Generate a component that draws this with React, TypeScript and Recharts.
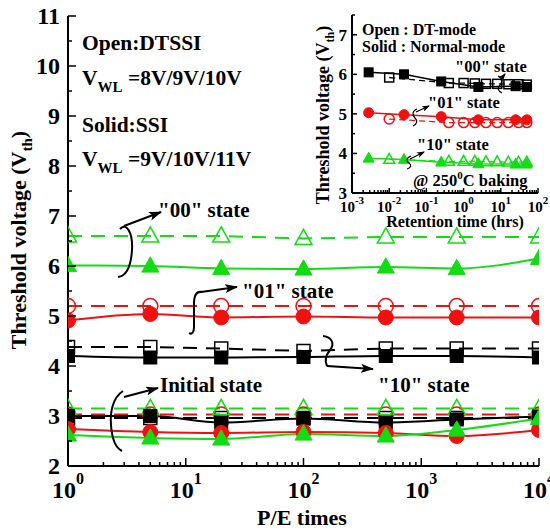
import React from "react";
import { LineChart, Line, XAxis, YAxis, ReferenceArea } from "recharts";

const FONT = "'Liberation Serif', 'Times New Roman', Times, serif";
const GREEN = "#14dc14";
const RED = "#f01010";
const BLACK = "#000000";

// main plot: Vth vs P/E cycles
const peCycles = [1, 5, 20, 100, 500, 2000, 10000];
const s00Open = [6.6, 6.6, 6.6, 6.55, 6.58, 6.58, 6.58];
const s00Solid = [6.01, 6.0, 5.95, 5.94, 5.98, 5.95, 6.15];
const s01Open = [5.2, 5.2, 5.2, 5.2, 5.2, 5.2, 5.2];
const s01Solid = [4.91, 5.04, 4.97, 4.99, 4.97, 4.97, 4.97];
const s10Open = [4.38, 4.38, 4.35, 4.3, 4.35, 4.35, 4.35];
const s10Solid = [4.2, 4.17, 4.17, 4.18, 4.2, 4.2, 4.17];
const initGreenOpen = [3.15, 3.15, 3.15, 3.15, 3.15, 3.15, 3.15];
const initRedOpen = [3.03, 3.03, 3.03, 3.03, 3.03, 3.03, 3.03];
const initBlackOpen = [2.96, 2.96, 2.96, 2.96, 2.96, 2.96, 2.96];
const initBlackSolid = [3.0, 3.0, 2.87, 2.95, 2.87, 2.93, 2.99];
const initRedSolid = [2.74, 2.68, 2.66, 2.68, 2.66, 2.6, 2.72];
const initGreenSolid = [2.62, 2.56, 2.54, 2.64, 2.6, 2.72, 2.95];

const peMajorTicks = [1, 10, 100, 1000, 10000];
const logMinorSteps = [2, 3, 4, 5, 6, 7, 8, 9];
const peTicks = peMajorTicks.flatMap((d, i) =>
  i < peMajorTicks.length - 1 ? [d, ...logMinorSteps.map((m) => m * d)] : [d]
);
const vthTicks = [2, 2.5, 3, 3.5, 4, 4.5, 5, 5.5, 6, 6.5, 7, 7.5, 8, 8.5, 9, 9.5, 10, 10.5, 11];

// inset: retention at 250C
const hrsSolid = [0.0028, 0.025, 0.25, 2.5, 25, 50];
const hrsOpen = [0.01, 0.4, 1, 2, 4, 8, 16, 30, 50];
const ret00Solid = [6.05, 6.0, 5.82, 5.68, 5.7, 5.68];
const ret00Open = [5.92, 5.78, 5.78, 5.77, 5.76, 5.76, 5.75, 5.75, 5.74];
const ret01Solid = [5.03, 4.98, 4.93, 4.85, 4.85, 4.85];
const ret01Open = [4.87, 4.78, 4.78, 4.78, 4.78, 4.78, 4.78, 4.78, 4.78];
const ret10Solid = [3.88, 3.85, 3.78, 3.74, 3.73, 3.73];
const ret10Open = [3.85, 3.8, 3.8, 3.8, 3.79, 3.79, 3.78, 3.78, 3.78];

const hrsMajorTicks = [0.001, 0.01, 0.1, 1, 10, 100];
const hrsTicks = hrsMajorTicks.flatMap((d, i) =>
  i < hrsMajorTicks.length - 1 ? [d, ...logMinorSteps.map((m) => m * d)] : [d]
);
const insetVthTicks = [3, 3.5, 4, 4.5, 5, 5.5, 6, 6.5, 7, 7.5];

const peRows = peCycles.map((x, i) => ({
  x,
  s00Open: s00Open[i],
  s00Solid: s00Solid[i],
  s01Open: s01Open[i],
  s01Solid: s01Solid[i],
  s10Open: s10Open[i],
  s10Solid: s10Solid[i],
  initGreenOpen: initGreenOpen[i],
  initRedOpen: initRedOpen[i],
  initBlackOpen: initBlackOpen[i],
  initBlackSolid: initBlackSolid[i],
  initRedSolid: initRedSolid[i],
  initGreenSolid: initGreenSolid[i],
}));
const solidRows = hrsSolid.map((x, i) => ({ x, v00: ret00Solid[i], v01: ret01Solid[i], v10: ret10Solid[i] }));
const openRows = hrsOpen.map((x, i) => ({ x, v00: ret00Open[i], v01: ret01Open[i], v10: ret10Open[i] }));

type Shape = "triangle" | "circle" | "square";

function marker(shape: Shape, color: string, filled: boolean, size: number) {
  return (p: any) => {
    const { cx, cy, index } = p;
    if (cx == null || cy == null) return <g key={index} />;
    const fill = filled ? color : "none";
    const sw = filled ? 1 : 1.5;
    if (shape === "circle")
      return <circle key={index} cx={cx} cy={cy} r={size / 2} fill={fill} stroke={color} strokeWidth={sw} />;
    if (shape === "square")
      return (
        <rect key={index} x={cx - size / 2} y={cy - size / 2} width={size} height={size} fill={fill} stroke={color} strokeWidth={sw} />
      );
    const h = size * 0.9;
    return (
      <polygon
        key={index}
        points={`${cx},${cy - h * 0.6} ${cx - size / 2},${cy + h * 0.4} ${cx + size / 2},${cy + h * 0.4}`}
        fill={fill}
        stroke={color}
        strokeWidth={sw}
        strokeLinejoin="miter"
      />
    );
  };
}

const isMajor = (v: number) => Math.abs(Math.log10(v) - Math.round(Math.log10(v))) < 1e-6;

function logTick(side: "bottom" | "top", big: number, small: number, fs: number, sup: number, base: number, supDy: number) {
  return (p: any) => {
    const { x, y, payload } = p;
    const v = payload.value;
    const major = isMajor(v);
    const len = major ? big : small;
    const dir = side === "bottom" ? -1 : 1;
    return (
      <g>
        <line x1={x} x2={x} y1={y} y2={y + dir * len} stroke="#000" strokeWidth={1.5} />
        {side === "bottom" && major && (
          <text x={x} y={y + base} textAnchor="middle" fontFamily={FONT} fontWeight="bold" fontSize={fs} fill="#000">
            10
            <tspan dy={supDy} fontSize={sup}>
              {Math.round(Math.log10(v))}
            </tspan>
          </text>
        )}
      </g>
    );
  };
}

function linTick(side: "left" | "right", big: number, small: number, fs: number, gap: number, base: number) {
  return (p: any) => {
    const { x, y, payload } = p;
    const v = payload.value;
    const major = Number.isInteger(v);
    const len = major ? big : small;
    const dir = side === "left" ? 1 : -1;
    return (
      <g>
        <line x1={x} x2={x + dir * len} y1={y} y2={y} stroke="#000" strokeWidth={1.5} />
        {side === "left" && major && (
          <text x={x - gap} y={y + base} textAnchor="end" fontFamily={FONT} fontWeight="bold" fontSize={fs} fill="#000">
            {v}
          </text>
        )}
      </g>
    );
  };
}

const axisLine = { stroke: "#000", strokeWidth: 2 };

function MainChart() {
  const lines = [
    { key: "s00Open", color: GREEN, shape: "triangle", filled: false },
    { key: "s01Open", color: RED, shape: "circle", filled: false },
    { key: "s10Open", color: BLACK, shape: "square", filled: false },
    { key: "initBlackOpen", color: BLACK, shape: "square", filled: false },
    { key: "initRedOpen", color: RED, shape: "circle", filled: false },
    { key: "initGreenOpen", color: GREEN, shape: "triangle", filled: false },
    { key: "s00Solid", color: GREEN, shape: "triangle", filled: true },
    { key: "s01Solid", color: RED, shape: "circle", filled: true },
    { key: "s10Solid", color: BLACK, shape: "square", filled: true },
    { key: "initBlackSolid", color: BLACK, shape: "square", filled: true },
    { key: "initRedSolid", color: RED, shape: "circle", filled: true },
    { key: "initGreenSolid", color: GREEN, shape: "triangle", filled: true },
  ] as const;
  const sizes = { triangle: 17, circle: 15, square: 13 };
  return (
    <LineChart width={550} height={531} data={peRows} margin={{ top: 16, right: 11, bottom: 0, left: 0 }}>
      <XAxis
        xAxisId="b"
        dataKey="x"
        type="number"
        scale="log"
        domain={[1, 10000]}
        allowDataOverflow
        ticks={peTicks}
        interval={0}
        height={65}
        tickSize={0}
        tickMargin={0}
        tickLine={false}
        axisLine={axisLine}
        tick={logTick("bottom", 8, 4, 24, 16, 32, -14)}
      />
      <XAxis
        xAxisId="t"
        orientation="top"
        dataKey="x"
        type="number"
        scale="log"
        domain={[1, 10000]}
        allowDataOverflow
        ticks={peTicks}
        interval={0}
        height={0}
        tickSize={0}
        tickMargin={0}
        tickLine={false}
        axisLine={axisLine}
        tick={logTick("top", 8, 4, 24, 16, 32, -14)}
      />
      <YAxis
        yAxisId="l"
        type="number"
        domain={[2, 11]}
        allowDataOverflow
        ticks={vthTicks}
        interval={0}
        width={68}
        tickSize={0}
        tickMargin={0}
        tickLine={false}
        axisLine={axisLine}
        tick={linTick("left", 8, 4, 24, 8, 8)}
      />
      <YAxis
        yAxisId="r"
        orientation="right"
        type="number"
        domain={[2, 11]}
        ticks={vthTicks}
        interval={0}
        width={0}
        tickSize={0}
        tickMargin={0}
        tickLine={false}
        axisLine={axisLine}
        tick={linTick("right", 8, 4, 24, 8, 8)}
      />
      {lines.map((l) => (
        <Line
          key={l.key}
          xAxisId="b"
          yAxisId="l"
          dataKey={l.key}
          type={l.filled ? "monotone" : "linear"}
          stroke={l.color}
          strokeWidth={2}
          strokeDasharray={l.filled ? undefined : "14 9"}
          dot={marker(l.shape, l.color, l.filled, sizes[l.shape])}
          activeDot={false}
          isAnimationActive={false}
        />
      ))}
    </LineChart>
  );
}

function InsetChart() {
  const series = [
    { key: "v00", color: BLACK, shape: "square" },
    { key: "v01", color: RED, shape: "circle" },
    { key: "v10", color: GREEN, shape: "triangle" },
  ] as const;
  const sizes = { triangle: 11, circle: 10, square: 9 };
  return (
    <LineChart width={250} height={235} margin={{ top: 15, right: 12, bottom: 0, left: 0 }}>
      <ReferenceArea xAxisId="b" yAxisId="l" x1={0.001} x2={100} y1={3} y2={7.5} fill="#fff" fillOpacity={1} stroke="none" />
      <XAxis
        xAxisId="b"
        dataKey="x"
        type="number"
        scale="log"
        domain={[0.001, 100]}
        allowDataOverflow
        ticks={hrsTicks}
        interval={0}
        height={42}
        tickSize={0}
        tickMargin={0}
        tickLine={false}
        axisLine={axisLine}
        tick={logTick("bottom", 5, 3, 15, 11, 19, -8)}
      />
      <XAxis
        xAxisId="t"
        orientation="top"
        dataKey="x"
        type="number"
        scale="log"
        domain={[0.001, 100]}
        ticks={hrsTicks}
        interval={0}
        height={0}
        tickSize={0}
        tickMargin={0}
        tickLine={false}
        axisLine={axisLine}
        tick={logTick("top", 5, 3, 15, 11, 19, -8)}
      />
      <YAxis
        yAxisId="l"
        type="number"
        domain={[3, 7.5]}
        allowDataOverflow
        ticks={insetVthTicks}
        interval={0}
        width={52}
        tickSize={0}
        tickMargin={0}
        tickLine={false}
        axisLine={axisLine}
        tick={linTick("left", 5, 3, 17, 5, 6)}
      />
      <YAxis
        yAxisId="r"
        orientation="right"
        type="number"
        domain={[3, 7.5]}
        ticks={insetVthTicks}
        interval={0}
        width={0}
        tickSize={0}
        tickMargin={0}
        tickLine={false}
        axisLine={axisLine}
        tick={linTick("right", 5, 3, 17, 5, 6)}
      />
      {series.map((s) => (
        <Line
          key={s.key + "o"}
          xAxisId="b"
          yAxisId="l"
          data={openRows}
          dataKey={s.key}
          type="linear"
          stroke={s.color}
          strokeWidth={1.3}
          strokeDasharray="6 4"
          dot={marker(s.shape, s.color, false, sizes[s.shape])}
          activeDot={false}
          isAnimationActive={false}
        />
      ))}
      {series.map((s) => (
        <Line
          key={s.key + "s"}
          xAxisId="b"
          yAxisId="l"
          data={solidRows}
          dataKey={s.key}
          type="linear"
          stroke={s.color}
          strokeWidth={1.5}
          dot={marker(s.shape, s.color, true, sizes[s.shape])}
          activeDot={false}
          isAnimationActive={false}
        />
      ))}
    </LineChart>
  );
}

function Notes() {
  const t = { fontFamily: FONT, fontWeight: "bold" as const, fill: "#000" };
  return (
    <svg width={550} height={531} style={{ position: "absolute", left: 0, top: 0, pointerEvents: "none" }}>
      <defs>
        <marker id="ah" markerUnits="userSpaceOnUse" markerWidth={13} markerHeight={9} refX={12} refY={4.5} orient="auto">
          <path d="M0,0 L13,4.5 L0,9 L3,4.5 z" fill="#000" />
        </marker>
        <marker id="ahs" markerUnits="userSpaceOnUse" markerWidth={8} markerHeight={6} refX={7} refY={3} orient="auto">
          <path d="M0,0 L8,3 L0,6 L2,3 z" fill="#000" />
        </marker>
      </defs>
      {/* main axis titles */}
      <text x={302} y={525} textAnchor="middle" fontSize={22} {...t}>
        P/E times
      </text>
      <text transform="translate(26,240) rotate(-90)" textAnchor="middle" fontSize={22} {...t}>
        Threshold voltage (V<tspan dy={6} fontSize={15}>th</tspan>
        <tspan dy={-6}>)</tspan>
      </text>
      {/* legend text */}
      <text x={82} y={50} fontSize={21.5} {...t}>Open:DTSSI</text>
      <text x={82} y={85} fontSize={21.5} {...t}>
        V<tspan dy={7} fontSize={15}>WL</tspan>
        <tspan dy={-7}> =8V/9V/10V</tspan>
      </text>
      <text x={82} y={132} fontSize={21.5} {...t}>Solid:SSI</text>
      <text x={82} y={166} fontSize={21.5} {...t}>
        V<tspan dy={7} fontSize={15}>WL</tspan>
        <tspan dy={-7}> =9V/10V/11V</tspan>
      </text>
      {/* state labels */}
      <text x={158} y={217} fontSize={21} {...t}>"00" state</text>
      <text x={242} y={298} fontSize={21} {...t}>"01" state</text>
      <text x={160} y={392} fontSize={21} {...t}>Initial state</text>
      <text x={378} y={392} fontSize={21} {...t}>"10" state</text>
      <g fill="none" stroke="#000" strokeWidth={2}>
        <path d="M120 229 C126 222, 133 232, 132 250 C131 266, 127 276, 118 277" />
        <path d="M124 226 L161 212" markerEnd="url(#ah)" />
        <path d="M202 292 C196 291, 194 296, 194 304 L194 327 C194 332, 192 335, 189 333" />
        <path d="M201 292 L237 287" markerEnd="url(#ah)" />
        <path d="M323 336 C332 337, 335 344, 330 350 C326 355, 324 360, 327 366" />
        <path d="M327 366 L373 369" markerEnd="url(#ah)" />
        <path d="M123 391 C112 398, 110 414, 111 425 C112 440, 116 448, 122 451" />
        <path d="M124 397 L158 388" markerEnd="url(#ah)" />
      </g>
      {/* inset texts */}
      <text x={329} y={115} transform="rotate(-90 329 115)" textAnchor="middle" fontSize={18} {...t}>
        Threshold voltage (V<tspan dy={5} fontSize={12}>th</tspan>
        <tspan dy={-5}>)</tspan>
      </text>
      <text x={455} y={227} textAnchor="middle" fontSize={16} {...t}>Retention time (hrs)</text>
      <text x={362} y={35} fontSize={16} {...t}>Open : DT-mode</text>
      <text x={362} y={52} fontSize={16} {...t}>Solid : Normal-mode</text>
      <text x={455} y={72} fontSize={16.5} {...t}>"00" state</text>
      <text x={428} y={108} fontSize={16.5} {...t}>"01" state</text>
      <text x={417} y={150} fontSize={16.5} {...t}>"10" state</text>
      <text x={413} y={186} fontSize={16.5} {...t}>
        @ 250<tspan dy={-7} fontSize={11}>0</tspan>
        <tspan dy={7}>C baking</tspan>
      </text>
      <g fill="none" stroke="#000" strokeWidth={1.2}>
        <path d="M498 76 C503 78, 503 82, 500 85 C497 88, 498 91, 502 93" />
        <path d="M500 80 L505 74" markerEnd="url(#ahs)" />
        <path d="M417 109 C412 111, 412 115, 415 118 C418 121, 417 124, 413 126" />
        <path d="M416 112 L429 106" markerEnd="url(#ahs)" />
        <path d="M411 156 C406 158, 406 161, 409 163 C412 165, 411 168, 407 169" />
        <path d="M410 159 L424 152" markerEnd="url(#ahs)" />
      </g>
    </svg>
  );
}

export default function App() {
  return (
    <div style={{ position: "absolute", left: 0, top: 0, width: 550, height: 531, background: "#fff" }}>
      <MainChart />
      <div style={{ position: "absolute", left: 300, top: 0 }}>
        <InsetChart />
      </div>
      <Notes />
    </div>
  );
}
